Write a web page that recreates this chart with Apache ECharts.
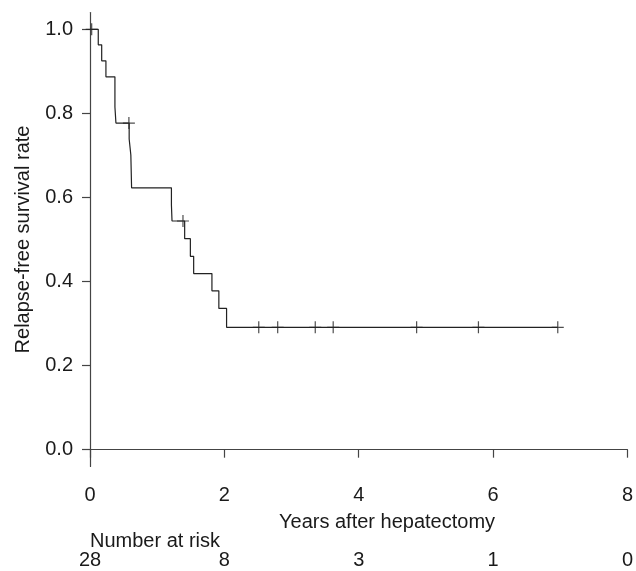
<!DOCTYPE html>
<html>
<head>
<meta charset="utf-8">
<script src="https://cdn.jsdelivr.net/npm/echarts@6/dist/echarts.min.js"></script>
<style>
html,body{margin:0;padding:0;background:#fff;}
#chart{width:636px;height:571px;}
</style>
</head>
<body>
<div id="chart"></div>
<script>
// Kaplan-Meier step curve (years, survival after each event)
const stepTimes = [0, 0.123, 0.174, 0.237, 0.371, 0.386, 0.583, 0.608, 0.619, 1.212, 1.221, 1.409, 1.494, 1.543, 1.815, 1.918, 2.033, 6.963];
const stepSurv  = [1.0, 0.963, 0.925, 0.887, 0.815, 0.777, 0.739, 0.701, 0.623, 0.582, 0.544, 0.502, 0.460, 0.419, 0.378, 0.336, 0.291, 0.291];
// censored observations
const censorTimes = [0.025, 0.579, 1.384, 2.512, 2.794, 3.353, 3.620, 4.862, 5.782, 6.963];
const censorSurv  = [1.0, 0.777, 0.544, 0.291, 0.291, 0.291, 0.291, 0.291, 0.291, 0.291];
// axis ticks
const xTicks = [0, 2, 4, 6, 8];
const yTicks = [0, 0.2, 0.4, 0.6, 0.8, 1.0];
// number at risk
const riskTimes  = [0, 2, 4, 6, 8];
const riskCounts = [28, 8, 3, 1, 0];

const FONT = '"Liberation Sans", Arial, sans-serif';
const TXT = '#1a1a1a';
const AX = '#444';

const chart = echarts.init(document.getElementById('chart'));
chart.setOption({
  animation: false,
  backgroundColor: '#fff',
  grid: {left: 90, right: 7, top: 12.5, bottom: 104.5},
  xAxis: [{
    type: 'value', min: 0, max: 8, interval: 2,
    axisLine: {show: true, lineStyle: {color: AX, width: 1.2}},
    axisTick: {show: true, inside: false, length: 8, lineStyle: {color: AX, width: 1.2}},
    axisLabel: {margin: 19, fontSize: 20, color: TXT, fontFamily: FONT, customValues: xTicks},
    splitLine: {show: false}
  }, {
    type: 'value', min: 0, max: 8, interval: 2, position: 'bottom', offset: 76,
    axisLine: {show: false}, axisTick: {show: false}, splitLine: {show: false},
    axisLabel: {margin: 8, fontSize: 20, color: TXT, fontFamily: FONT,
      customValues: riskTimes,
      formatter: v => { const i = riskTimes.indexOf(v); return i >= 0 ? String(riskCounts[i]) : ''; }}
  }],
  yAxis: {
    type: 'value', min: -0.04, max: 1.04,
    name: 'Relapse-free survival rate', nameLocation: 'middle', nameGap: 57,
    nameTextStyle: {fontSize: 20, color: TXT, fontFamily: FONT},
    axisLine: {show: true, lineStyle: {color: AX, width: 1.2}},
    axisTick: {show: true, length: 8, customValues: yTicks, lineStyle: {color: AX, width: 1.2}},
    axisLabel: {margin: 17, fontSize: 20, color: TXT, fontFamily: FONT,
      customValues: yTicks, formatter: v => v.toFixed(1)},
    splitLine: {show: false}
  },
  graphic: [
    {type: 'text', left: 279, top: 512, style: {text: 'Years after hepatectomy', fontSize: 20, fill: TXT, fontFamily: FONT}},
    {type: 'text', left: 90, top: 531, style: {text: 'Number at risk', fontSize: 20, fill: TXT, fontFamily: FONT}}
  ],
  series: [{
    type: 'line', step: 'end', showSymbol: false, xAxisIndex: 0,
    data: stepTimes.map((t, i) => [t, stepSurv[i]]),
    lineStyle: {color: '#222', width: 1.2}
  }, {
    type: 'scatter', xAxisIndex: 0,
    data: censorTimes.map((t, i) => [t, censorSurv[i]]),
    symbol: 'path://M5,0V10M0,5H10', symbolSize: 12,
    itemStyle: {color: 'none', borderColor: '#222', borderWidth: 1.2}
  }]
});
</script>
</body>
</html>
